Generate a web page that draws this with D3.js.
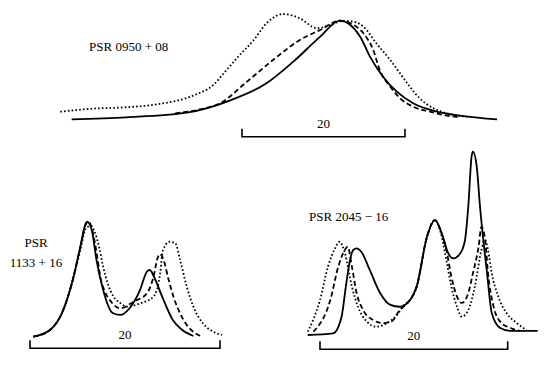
<!DOCTYPE html>
<html>
<head>
<meta charset="utf-8">
<script src="https://cdn.jsdelivr.net/npm/d3@7"></script>
<style>
  body { margin: 0; background: #fff; }
  svg { display: block; }
  text { font-family: 'Liberation Serif', 'DejaVu Serif', serif; fill: #000; }
</style>
</head>
<body>
<svg id="container"></svg>
<script>
// profiles: [longitude (deg), relative intensity]
const psr0950Solid = [[-20.9, 0], [-14.2, 0.02], [-6.8, 0.067], [-1.5, 0.19], [3.0, 0.365], [6.3, 0.585],
  [9.6, 0.838], [12.0, 1.0], [14.5, 0.838], [15.7, 0.635], [17.3, 0.432], [19.0, 0.28], [21.0, 0.162],
  [23.9, 0.077], [27.2, 0.033], [31.3, 0]]
const psr0950Dashed = [[-8.2, 0.06], [-5.2, 0.1], [-2.7, 0.162], [0.6, 0.381], [3.8, 0.601], [7.1, 0.804],
  [9.6, 0.906], [12.0, 1.0], [13.3, 0.973], [14.9, 0.872], [16.1, 0.703], [16.9, 0.5], [18.2, 0.33],
  [19.4, 0.213], [21.0, 0.128], [23.1, 0.077], [24.7, 0.044], [26.8, 0.02]]
const psr0950Dotted = [[-22.3, 0.077], [-18.3, 0.108], [-14.2, 0.122], [-10.1, 0.156], [-6.0, 0.24],
  [-3.5, 0.35], [-1.9, 0.5], [-0.3, 0.65], [1.4, 0.8], [3.0, 0.973], [5.1, 1.068], [7.1, 1.024],
  [9.2, 0.923], [10.8, 0.956], [12.4, 0.998], [13.7, 0.99], [14.9, 0.939], [16.5, 0.77], [18.2, 0.6],
  [19.4, 0.466], [20.6, 0.33], [21.8, 0.213], [23.5, 0.112], [25.1, 0.061], [27.6, 0.026]]

const psr1133Solid = [[0.35, 0], [2.1, 0.058], [3.5, 0.232], [4.5, 0.493], [5.3, 0.783], [5.8, 0.971],
  [6.0, 1.0], [6.5, 0.928], [7.0, 0.667], [7.7, 0.406], [8.7, 0.206], [9.5, 0.189], [10.5, 0.25],
  [11.6, 0.41], [12.3, 0.565], [12.6, 0.58], [13.2, 0.493], [13.9, 0.35], [15.0, 0.15], [16.0, 0.06],
  [17.2, 0.006]]
const psr1133Dashed = [[0.35, 0], [2.1, 0.058], [3.5, 0.232], [4.5, 0.493], [5.3, 0.78], [5.9, 0.98],
  [6.2, 0.997], [6.6, 0.91], [7.05, 0.71], [7.4, 0.522], [7.9, 0.389], [8.4, 0.319], [9.5, 0.247],
  [10.9, 0.304], [12.3, 0.377], [13.0, 0.522], [13.4, 0.676], [13.7, 0.719], [14.0, 0.682], [14.6, 0.493],
  [15.1, 0.348], [15.8, 0.203], [16.5, 0.102], [17.4, 0.03], [18.2, 0]]
const psr1133Dotted = [[0.35, 0], [2.1, 0.058], [3.5, 0.232], [4.5, 0.493], [5.3, 0.754], [5.9, 0.945],
  [6.4, 0.963], [6.8, 0.913], [7.3, 0.771], [7.7, 0.609], [8.2, 0.458], [8.8, 0.348], [9.5, 0.293],
  [10.2, 0.261], [11.6, 0.29], [13.0, 0.348], [13.7, 0.551], [14.0, 0.754], [14.7, 0.826], [15.3, 0.812],
  [15.8, 0.667], [16.5, 0.435], [17.2, 0.261], [18.2, 0.117], [19.3, 0.043], [20.2, 0.015]]

const psr2045Solid = [[-1.3, 0], [1.4, 0.009], [2.3, 0.1], [2.8, 0.282], [3.2, 0.409], [3.55, 0.464],
  [3.9, 0.473], [4.4, 0.454], [5.3, 0.355], [6.4, 0.229], [7.5, 0.164], [8.5, 0.154], [9.6, 0.191],
  [10.3, 0.264], [11.4, 0.536], [12.25, 0.627], [13.1, 0.536], [13.6, 0.453], [14.2, 0.418], [14.9, 0.442],
  [15.45, 0.518], [15.8, 0.7], [16.15, 0.973], [16.3, 1.0], [16.7, 0.918], [17.05, 0.7], [17.4, 0.518],
  [17.8, 0.338], [18.3, 0.12], [19.2, 0.038], [20.3, 0.022], [23.2, 0.023]]
const psr2045Dashed = [[-0.7, 0.018], [1.1, 0.191], [1.95, 0.373], [2.65, 0.464], [2.95, 0.482], [3.4, 0.373],
  [3.9, 0.229], [4.6, 0.136], [5.65, 0.082], [6.7, 0.065], [7.6, 0.073], [8.5, 0.136], [9.4, 0.18],
  [10.3, 0.264], [11.4, 0.536], [12.25, 0.627], [12.9, 0.562], [13.5, 0.454], [14.0, 0.318], [14.6, 0.209],
  [15.1, 0.175], [15.8, 0.229], [16.3, 0.338], [16.9, 0.482], [17.2, 0.591], [17.6, 0.518], [17.9, 0.338],
  [18.5, 0.154], [19.2, 0.073], [20.3, 0.038], [21.3, 0.022]]
const psr2045Dotted = [[-1.3, 0.018], [0, 0.191], [0.85, 0.373], [1.6, 0.473], [2.1, 0.509], [2.65, 0.447],
  [3.4, 0.264], [4.05, 0.154], [5.0, 0.073], [6.0, 0.045], [7.1, 0.064], [8.2, 0.109], [8.95, 0.164],
  [9.6, 0.191], [10.3, 0.264], [11.4, 0.536], [12.25, 0.627], [12.9, 0.551], [13.5, 0.398], [14.0, 0.264],
  [14.6, 0.154], [15.1, 0.1], [15.8, 0.136], [16.5, 0.264], [17.2, 0.464], [17.6, 0.518], [17.9, 0.464],
  [18.3, 0.338], [19.0, 0.209], [19.9, 0.118], [21.0, 0.064], [22.0, 0.027]]

const scaleBar = 20 // degrees
const width = 549
const height = 368

const svg = d3.select('#container').attr('width', width).attr('height', height)

const styles = {
  solid: { dash: null, w: 1.8 },
  dashed: { dash: '5,3', w: 1.8 },
  dotted: { dash: '1.6,2.2', w: 1.8 }
}

const panels = [
  {
    name: ['PSR 0950 + 08'], labelPos: [89, 51], anchor: 'start',
    x: [242, 405], y: [119.3, 20.7], barY: 136.7,
    series: [[psr0950Solid, 'solid'], [psr0950Dashed, 'dashed'], [psr0950Dotted, 'dotted']]
  },
  {
    name: ['PSR', '1133 + 16'], labelPos: [36, 247], anchor: 'middle',
    x: [30, 220], y: [336.7, 221.7], barY: 348.3,
    series: [[psr1133Solid, 'solid'], [psr1133Dashed, 'dashed'], [psr1133Dotted, 'dotted']]
  },
  {
    name: ['PSR 2045 − 16'], labelPos: [309, 221], anchor: 'start',
    x: [320, 507.7], y: [335, 151.7], barY: 349.3,
    series: [[psr2045Solid, 'solid'], [psr2045Dashed, 'dashed'], [psr2045Dotted, 'dotted']]
  }
]

panels.forEach(p => {
  const xScale = d3.scaleLinear().domain([0, scaleBar]).range(p.x)
  const yScale = d3.scaleLinear().domain([0, 1]).range(p.y)
  const g = svg.append('g')

  const line = d3.line()
    .x(d => xScale(d[0]))
    .y(d => yScale(d[1]))
    .curve(d3.curveMonotoneX)

  // draw profiles
  p.series.forEach(([data, kind]) => {
    g.append('path')
      .datum(data)
      .attr('d', line)
      .attr('fill', 'none')
      .attr('stroke', '#000')
      .attr('stroke-width', styles[kind].w)
      .attr('stroke-dasharray', styles[kind].dash)
      .attr('stroke-linejoin', 'round')
  })

  // scale bar
  const bx0 = xScale(0)
  const bx1 = xScale(scaleBar)
  g.append('path')
    .attr('d', `M${bx0},${p.barY - 8}V${p.barY}H${bx1}V${p.barY - 8}`)
    .attr('fill', 'none')
    .attr('stroke', '#000')
    .attr('stroke-width', 1.6)
  g.append('text')
    .attr('x', xScale(scaleBar / 2))
    .attr('y', p.barY - 9)
    .attr('text-anchor', 'middle')
    .attr('font-size', 13)
    .text(scaleBar)

  // label
  const t = g.append('text')
    .attr('x', p.labelPos[0])
    .attr('y', p.labelPos[1])
    .attr('text-anchor', p.anchor)
    .attr('font-size', 13)
  p.name.forEach((s, i) => {
    t.append('tspan')
      .attr('x', p.labelPos[0])
      .attr('dy', i === 0 ? 0 : 20)
      .text(s)
  })
})
</script>
</body>
</html>
